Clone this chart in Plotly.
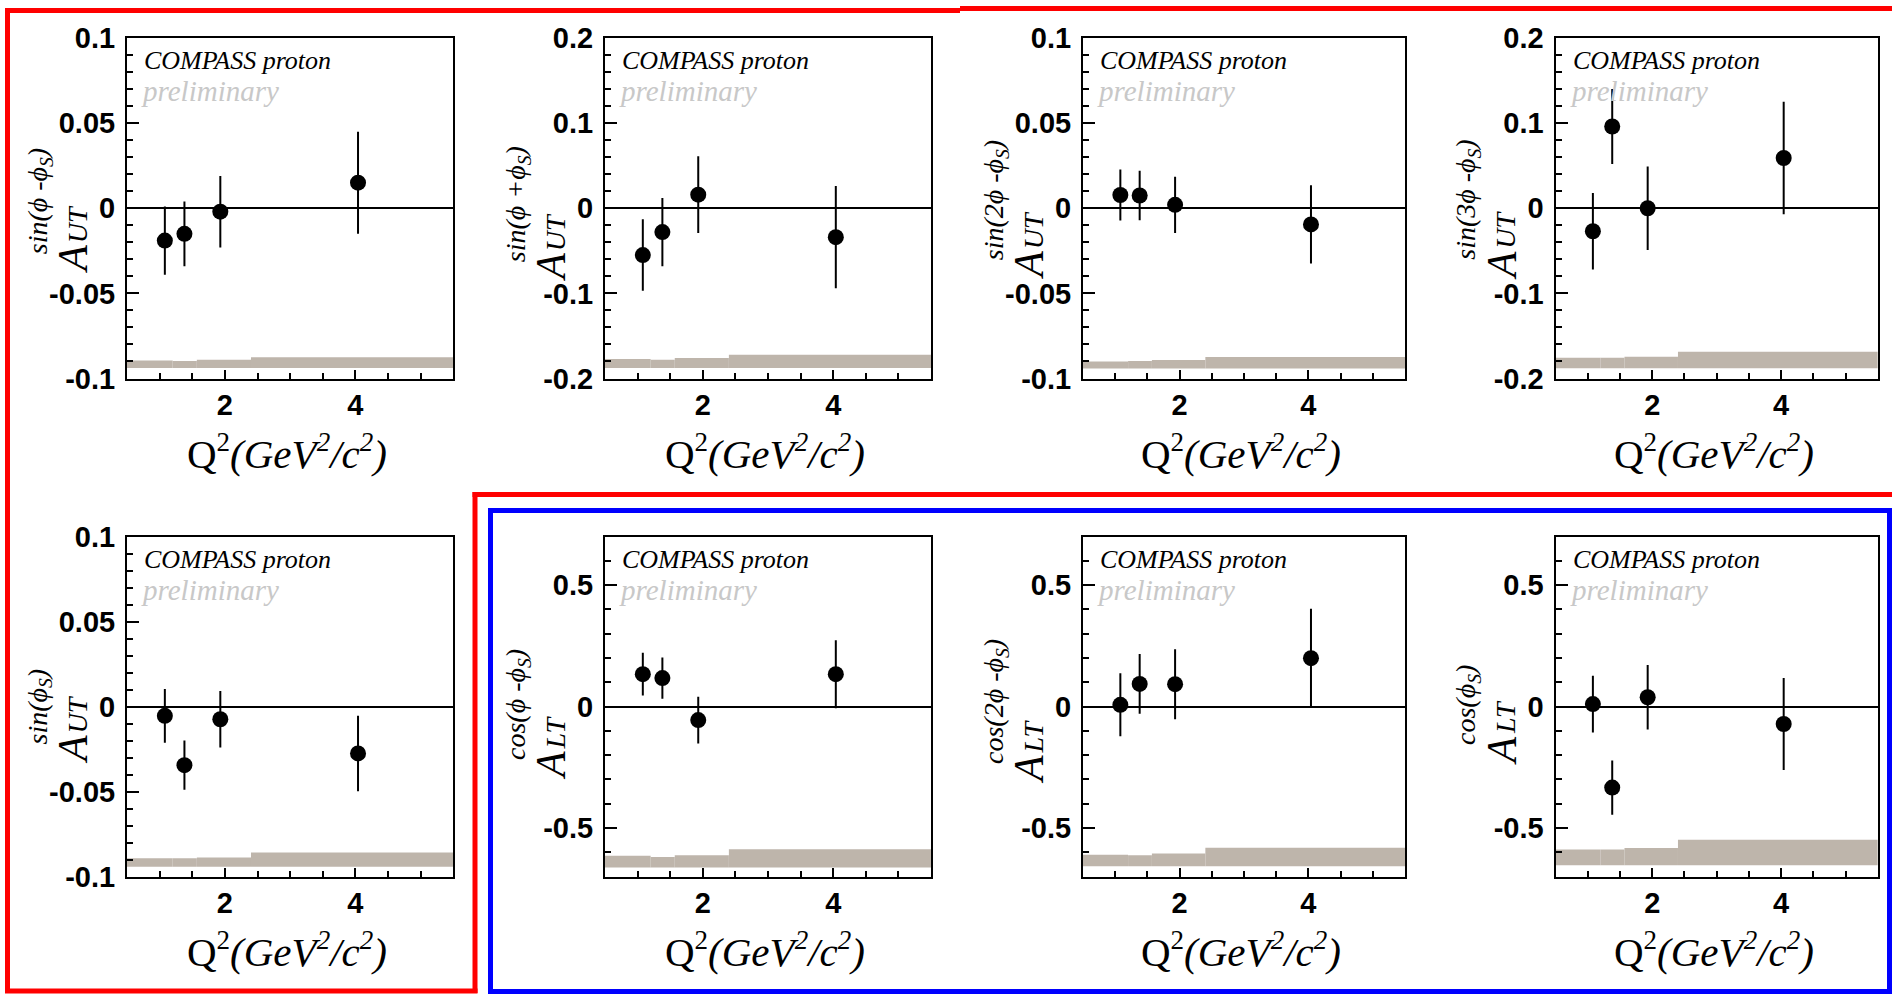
import numpy as np
import plotly.graph_objects as go

W, H = 1892, 995

# ---------------- data ----------------
q2 = [1.08, 1.38, 1.93, 4.04]
bin_edges = [0.5, 1.2, 1.57, 2.4, 5.5]

sup_labels = ["sin(ϕ -ϕ<sub>S</sub>)", "sin(ϕ +ϕ<sub>S</sub>)", "sin(2ϕ -ϕ<sub>S</sub>)",
              "sin(3ϕ -ϕ<sub>S</sub>)", "sin(ϕ<sub>S</sub>)", "cos(ϕ -ϕ<sub>S</sub>)",
              "cos(2ϕ -ϕ<sub>S</sub>)", "cos(ϕ<sub>S</sub>)"]
sub_labels = ["UT", "UT", "UT", "UT", "UT", "LT", "LT", "LT"]

a_sin_phi_m_phis = [-0.019, -0.015, -0.002, 0.015]
e_sin_phi_m_phis = [0.020, 0.019, 0.021, 0.030]
a_sin_phi_p_phis = [-0.055, -0.028, 0.016, -0.034]
e_sin_phi_p_phis = [0.042, 0.040, 0.045, 0.060]
a_sin_2phi_m_phis = [0.0078, 0.0075, 0.002, -0.0095]
e_sin_2phi_m_phis = [0.015, 0.0145, 0.0165, 0.023]
a_sin_3phi_m_phis = [-0.027, 0.096, 0.0, 0.059]
e_sin_3phi_m_phis = [0.045, 0.044, 0.049, 0.066]
a_sin_phis = [-0.0055, -0.0345, -0.0075, -0.0276]
e_sin_phis = [0.0158, 0.0145, 0.0166, 0.0222]
a_cos_phi_m_phis = [0.133, 0.117, -0.056, 0.133]
e_cos_phi_m_phis = [0.088, 0.085, 0.096, 0.140]
a_cos_2phi_m_phis = [0.007, 0.093, 0.092, 0.199]
e_cos_2phi_m_phis = [0.130, 0.123, 0.144, 0.203]
a_cos_phis = [0.010, -0.334, 0.038, -0.072]
e_cos_phis = [0.117, 0.112, 0.133, 0.189]

values = [a_sin_phi_m_phis, a_sin_phi_p_phis, a_sin_2phi_m_phis, a_sin_3phi_m_phis,
          a_sin_phis, a_cos_phi_m_phis, a_cos_2phi_m_phis, a_cos_phis]
errors = [e_sin_phi_m_phis, e_sin_phi_p_phis, e_sin_2phi_m_phis, e_sin_3phi_m_phis,
          e_sin_phis, e_cos_phi_m_phis, e_cos_2phi_m_phis, e_cos_phis]

# systematic bands: common lower edge and band heights per Q2 bin
sys_base = [-0.0939, -0.1878, -0.0941, -0.188, -0.0943, -0.663, -0.658, -0.654]
sys_height = [
    [0.0044, 0.0042, 0.0049, 0.0064],
    [0.0108, 0.0098, 0.0118, 0.0158],
    [0.0041, 0.0044, 0.0049, 0.0068],
    [0.0123, 0.0123, 0.0135, 0.0194],
    [0.0051, 0.0050, 0.0055, 0.0084],
    [0.048, 0.043, 0.050, 0.075],
    [0.048, 0.046, 0.053, 0.076],
    [0.065, 0.065, 0.071, 0.105],
]

# axis ticks
ytick_small_vals = [-0.1, -0.05, 0, 0.05, 0.1]
ytick_small_text = ["-0.1", "-0.05", "0", "0.05", "0.1"]
ytick_mid_vals = [-0.2, -0.1, 0, 0.1, 0.2]
ytick_mid_text = ["-0.2", "-0.1", "0", "0.1", "0.2"]
ytick_large_vals = [-0.5, 0, 0.5]
ytick_large_text = ["-0.5", "0", "0.5"]
xtick_vals = [2, 4]
xtick_text = ["2", "4"]

# ---------------- style / layout ----------------
yconf = {
    "small": dict(rng=[-0.1, 0.1], vals=ytick_small_vals, text=ytick_small_text, minor=0.01),
    "mid": dict(rng=[-0.2, 0.2], vals=ytick_mid_vals, text=ytick_mid_text, minor=0.02),
    "large": dict(rng=[-0.7, 0.7], vals=ytick_large_vals, text=ytick_large_text, minor=0.1),
}
panel_y = ["small", "mid", "small", "mid", "small", "large", "large", "large"]

col_left = [127, 605, 1083, 1555.5]
col_right = [453.3, 931, 1405, 1877.8]
row_top = [38, 536.5]
row_bottom = [378.5, 876.5]
# distance of the start of the y title below the frame centre (px)
ytitle_drop = [68, 76, 74, 74, 60, 76, 80, 61]

band_color = "rgb(190,181,171)"
serif = "Liberation Serif, Times New Roman, serif"
sans = "Liberation Sans, Arial, sans-serif"

def px_x(p):
    return p / W

def px_y(p):
    return 1 - p / H

edges = np.array(bin_edges)
centers = (edges[:-1] + edges[1:]) / 2
widths = np.diff(edges)

fig = go.Figure()
annotations = []
layout_axes = {}

sup2 = '<sup><span style="font-size:27px">2</span></sup>'
xtitle = "Q" + sup2 + "<i>(GeV" + sup2 + "/c" + sup2 + ")</i>"

for i in range(8):
    r, c = divmod(i, 4)
    fl, fr = col_left[c], col_right[c]
    ft, fb = row_top[r], row_bottom[r]
    n = i + 1
    xa = "x" if n == 1 else f"x{n}"
    ya = "y" if n == 1 else f"y{n}"
    xkey = "xaxis" if n == 1 else f"xaxis{n}"
    ykey = "yaxis" if n == 1 else f"yaxis{n}"

    fig.add_trace(go.Bar(
        x=centers, y=sys_height[i], base=sys_base[i], width=widths,
        marker=dict(color=band_color, line=dict(width=0)),
        xaxis=xa, yaxis=ya, showlegend=False, hoverinfo="skip"))
    fig.add_trace(go.Scatter(
        x=q2, y=values[i], mode="markers",
        marker=dict(color="black", size=16, symbol="circle"),
        error_y=dict(type="data", array=errors[i], color="black", thickness=2, width=0),
        xaxis=xa, yaxis=ya, showlegend=False))

    yc = yconf[panel_y[i]]
    pad = 1e-6
    layout_axes[xkey] = dict(
        domain=[px_x(fl), px_x(fr)], anchor=ya, range=[0.5, 5.5],
        showgrid=False, zeroline=False, showline=True, linecolor="black", linewidth=2,
        mirror=True, ticks="inside", ticklen=9, tickwidth=1.5, tickcolor="black",
        tickmode="array", tickvals=xtick_vals, ticktext=xtick_text,
        tickfont=dict(family=sans, size=29, color="black", weight="bold"),
        ticklabelstandoff=0, automargin=False,
        minor=dict(ticks="inside", ticklen=6, tickwidth=1.5, tickcolor="black",
                   dtick=0.5, tick0=0, showgrid=False),
    )
    layout_axes[ykey] = dict(
        domain=[px_y(fb), px_y(ft)], anchor=xa,
        range=[yc["rng"][0] - pad, yc["rng"][1] + pad],
        showgrid=False, zeroline=True, zerolinecolor="black", zerolinewidth=1.5,
        showline=True, linecolor="black", linewidth=2, mirror=True,
        ticks="inside", ticklen=12, tickwidth=1.5, tickcolor="black",
        tickmode="array", tickvals=yc["vals"], ticktext=yc["text"],
        tickfont=dict(family=sans, size=29, color="black", weight="bold"),
        ticklabelstandoff=4, automargin=False,
        minor=dict(ticks="inside", ticklen=6, tickwidth=1.5, tickcolor="black",
                   dtick=yc["minor"], tick0=0, showgrid=False),
    )

    # in-frame labels
    annotations.append(dict(
        text="<i>COMPASS proton</i>", x=px_x(fl + 15), y=px_y(ft + 23),
        xref="paper", yref="paper", xanchor="left", yanchor="middle", showarrow=False,
        font=dict(family=serif, size=26, color="black")))
    annotations.append(dict(
        text="<i>preliminary</i>", x=px_x(fl + 12), y=px_y(ft + 53),
        xref="paper", yref="paper", xanchor="left", yanchor="middle", showarrow=False,
        font=dict(family=serif, size=29, color="rgb(200,200,200)")))
    # x title
    annotations.append(dict(
        text=xtitle,
        x=px_x((fl + fr) / 2 - 3), y=px_y(fb + 73),
        xref="paper", yref="paper", xanchor="center", yanchor="middle", showarrow=False,
        font=dict(family=serif, size=41, color="black")))
    # y title, composed of A, subscript and superscript
    ymid = (ft + fb) / 2
    yb = ymid + ytitle_drop[i]
    annotations.append(dict(
        text="<i>A</i>", x=px_x(fl - 54), y=px_y(yb),
        xref="paper", yref="paper", xanchor="center", yanchor="bottom", showarrow=False,
        textangle=-90, font=dict(family=serif, size=42, color="black")))
    annotations.append(dict(
        text="<i>" + sub_labels[i] + "</i>", x=px_x(fl - 50), y=px_y(yb - 31),
        xref="paper", yref="paper", xanchor="center", yanchor="bottom", showarrow=False,
        textangle=-90, font=dict(family=serif, size=28, color="black")))
    annotations.append(dict(
        text="<i>" + sup_labels[i] + "</i>", x=px_x(fl - 88), y=px_y(yb - 20),
        xref="paper", yref="paper", xanchor="center", yanchor="bottom", showarrow=False,
        textangle=-90, font=dict(family=serif, size=28, color="black")))

red = "rgb(255,0,0)"
blue = "rgb(0,0,255)"
def seg(x0, y0, x1, y1, color):
    return dict(type="line", xref="paper", yref="paper",
                x0=px_x(x0), y0=px_y(y0), x1=px_x(x1), y1=px_y(y1),
                line=dict(color=color, width=5))

shapes = [
    seg(5, 10.5, 960, 10.5, red),
    seg(960, 8.5, W, 8.5, red),
    seg(7.5, 8, 7.5, 993, red),
    seg(5, 991, 477.5, 991, red),
    seg(475, 492, 475, 993, red),
    seg(472.5, 494.5, W, 494.5, red),
    dict(type="rect", xref="paper", yref="paper",
         x0=px_x(490.5), y0=px_y(510.5), x1=px_x(1889.5), y1=px_y(991.5),
         line=dict(color=blue, width=5), fillcolor="rgba(0,0,0,0)"),
]

fig.update_layout(
    width=W, height=H, autosize=False,
    margin=dict(l=0, r=0, t=0, b=0, pad=0, autoexpand=False),
    paper_bgcolor="white", plot_bgcolor="white",
    showlegend=False, barmode="overlay",
    annotations=annotations, shapes=shapes,
    **layout_axes,
)

fig.write_html(
    "out.html",
    config={"displayModeBar": False},
    post_script="document.body.style.margin='0';document.body.style.padding='0';"
                "document.body.style.overflow='hidden';",
)
